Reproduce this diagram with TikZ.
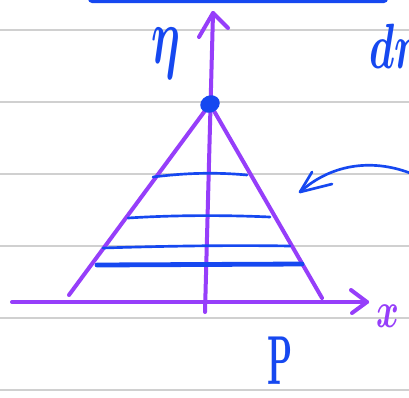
\documentclass[tikz,border=0pt]{standalone}
\usepackage{amsmath}

\definecolor{inkpurple}{RGB}{150,62,250}
\definecolor{inkblue}{RGB}{22,72,240}
\definecolor{rulegray}{RGB}{208,208,208}

\tikzset{every picture/.style={line width=0.75pt}}
\tikzset{
  ruleline/.style={draw=rulegray, line width=1.1pt},
  purpleline/.style={draw=inkpurple, line width=3pt, line cap=round, line join=round},
  blueline/.style={draw=inkblue, line width=2pt, line cap=round, line join=round},
  bluetext/.style={text=inkblue, inner sep=0pt},
  purpletext/.style={text=inkpurple, inner sep=0pt}
}

\begin{document}
\begin{tikzpicture}[x=0.75pt,y=0.75pt,yscale=-1,xscale=1]
%set diagram left start at 0, and has height of 397
\useasboundingbox (0,0) rectangle (409,397);
\fill [white] (0,0) rectangle (409,397);

%Ruled Lines
\draw [ruleline] (0,30) -- (409,30) ;
\draw [ruleline] (0,102) -- (409,102) ;
\draw [ruleline] (0,174) -- (409,174) ;
\draw [ruleline] (0,246) -- (409,246) ;
\draw [ruleline] (0,318) -- (409,318) ;
\draw [ruleline] (0,390) -- (409,390) ;

%Shape: Bar on top
\fill [inkblue, rounded corners=3] (88,-6) rectangle (388,3) ;

%Points
\coordinate (apex) at (210,104) ;
\coordinate (leftfoot) at (69,295) ;
\coordinate (rightfoot) at (322,298) ;
\coordinate (etatop) at (213,13) ;
\coordinate (etabot) at (205,312) ;
\coordinate (xstart) at (12,302) ;
\coordinate (xend) at (367,302) ;

%Straight Lines: axes
\draw [purpleline] (etabot) -- (etatop) ;
\draw [purpleline] (199,37) -- (etatop) -- (228,28) ;
\draw [purpleline] (xstart) -- (xend) ;
\draw [purpleline] (351,290) -- (xend) -- (352,313) ;

%Straight Lines: triangle
\draw [purpleline] (leftfoot) -- (apex) -- (rightfoot) ;

%Straight Lines: strips
\draw [blueline] (153,177) .. controls (185,173) and (215,172) .. (247,175) ;
\draw [blueline] (128,218) .. controls (175,215) and (225,215) .. (270,217) ;
\draw [blueline] (103,248) .. controls (165,246) and (230,245) .. (290,246) ;
\draw [blueline, line width=3.6pt] (97,265) -- (302,264) ;

%Shape: Ellipse
\fill [inkblue, rotate around={-25:(apex)}] (apex) ellipse (10 and 8.5) ;

%Curve Lines
\coordinate (arrtip) at (300,192) ;
\draw [blueline] (410,173) .. controls (370,158) and (330,165) .. (arrtip) ;
\draw [blueline] (312,172) -- (arrtip) -- (332,184) ;

% Text Node
\node [bluetext, xscale=3.4, yscale=6] (etalabel) at (166,53) {$\boldsymbol{\eta}$};
% Text Node
\node [purpletext, xscale=2.6, yscale=3.8] (xlabel) at (388,316) {$\boldsymbol{x}$};
% Text Node
\node [bluetext, xscale=2.4, yscale=5.2] (plabel) at (280,361) {\textbf{P}};
% Text Node
\node [bluetext, anchor=west, xscale=3.1, yscale=4.8] (drlabel) at (368,46) {$\boldsymbol{dr}$};

\end{tikzpicture}
\end{document}
